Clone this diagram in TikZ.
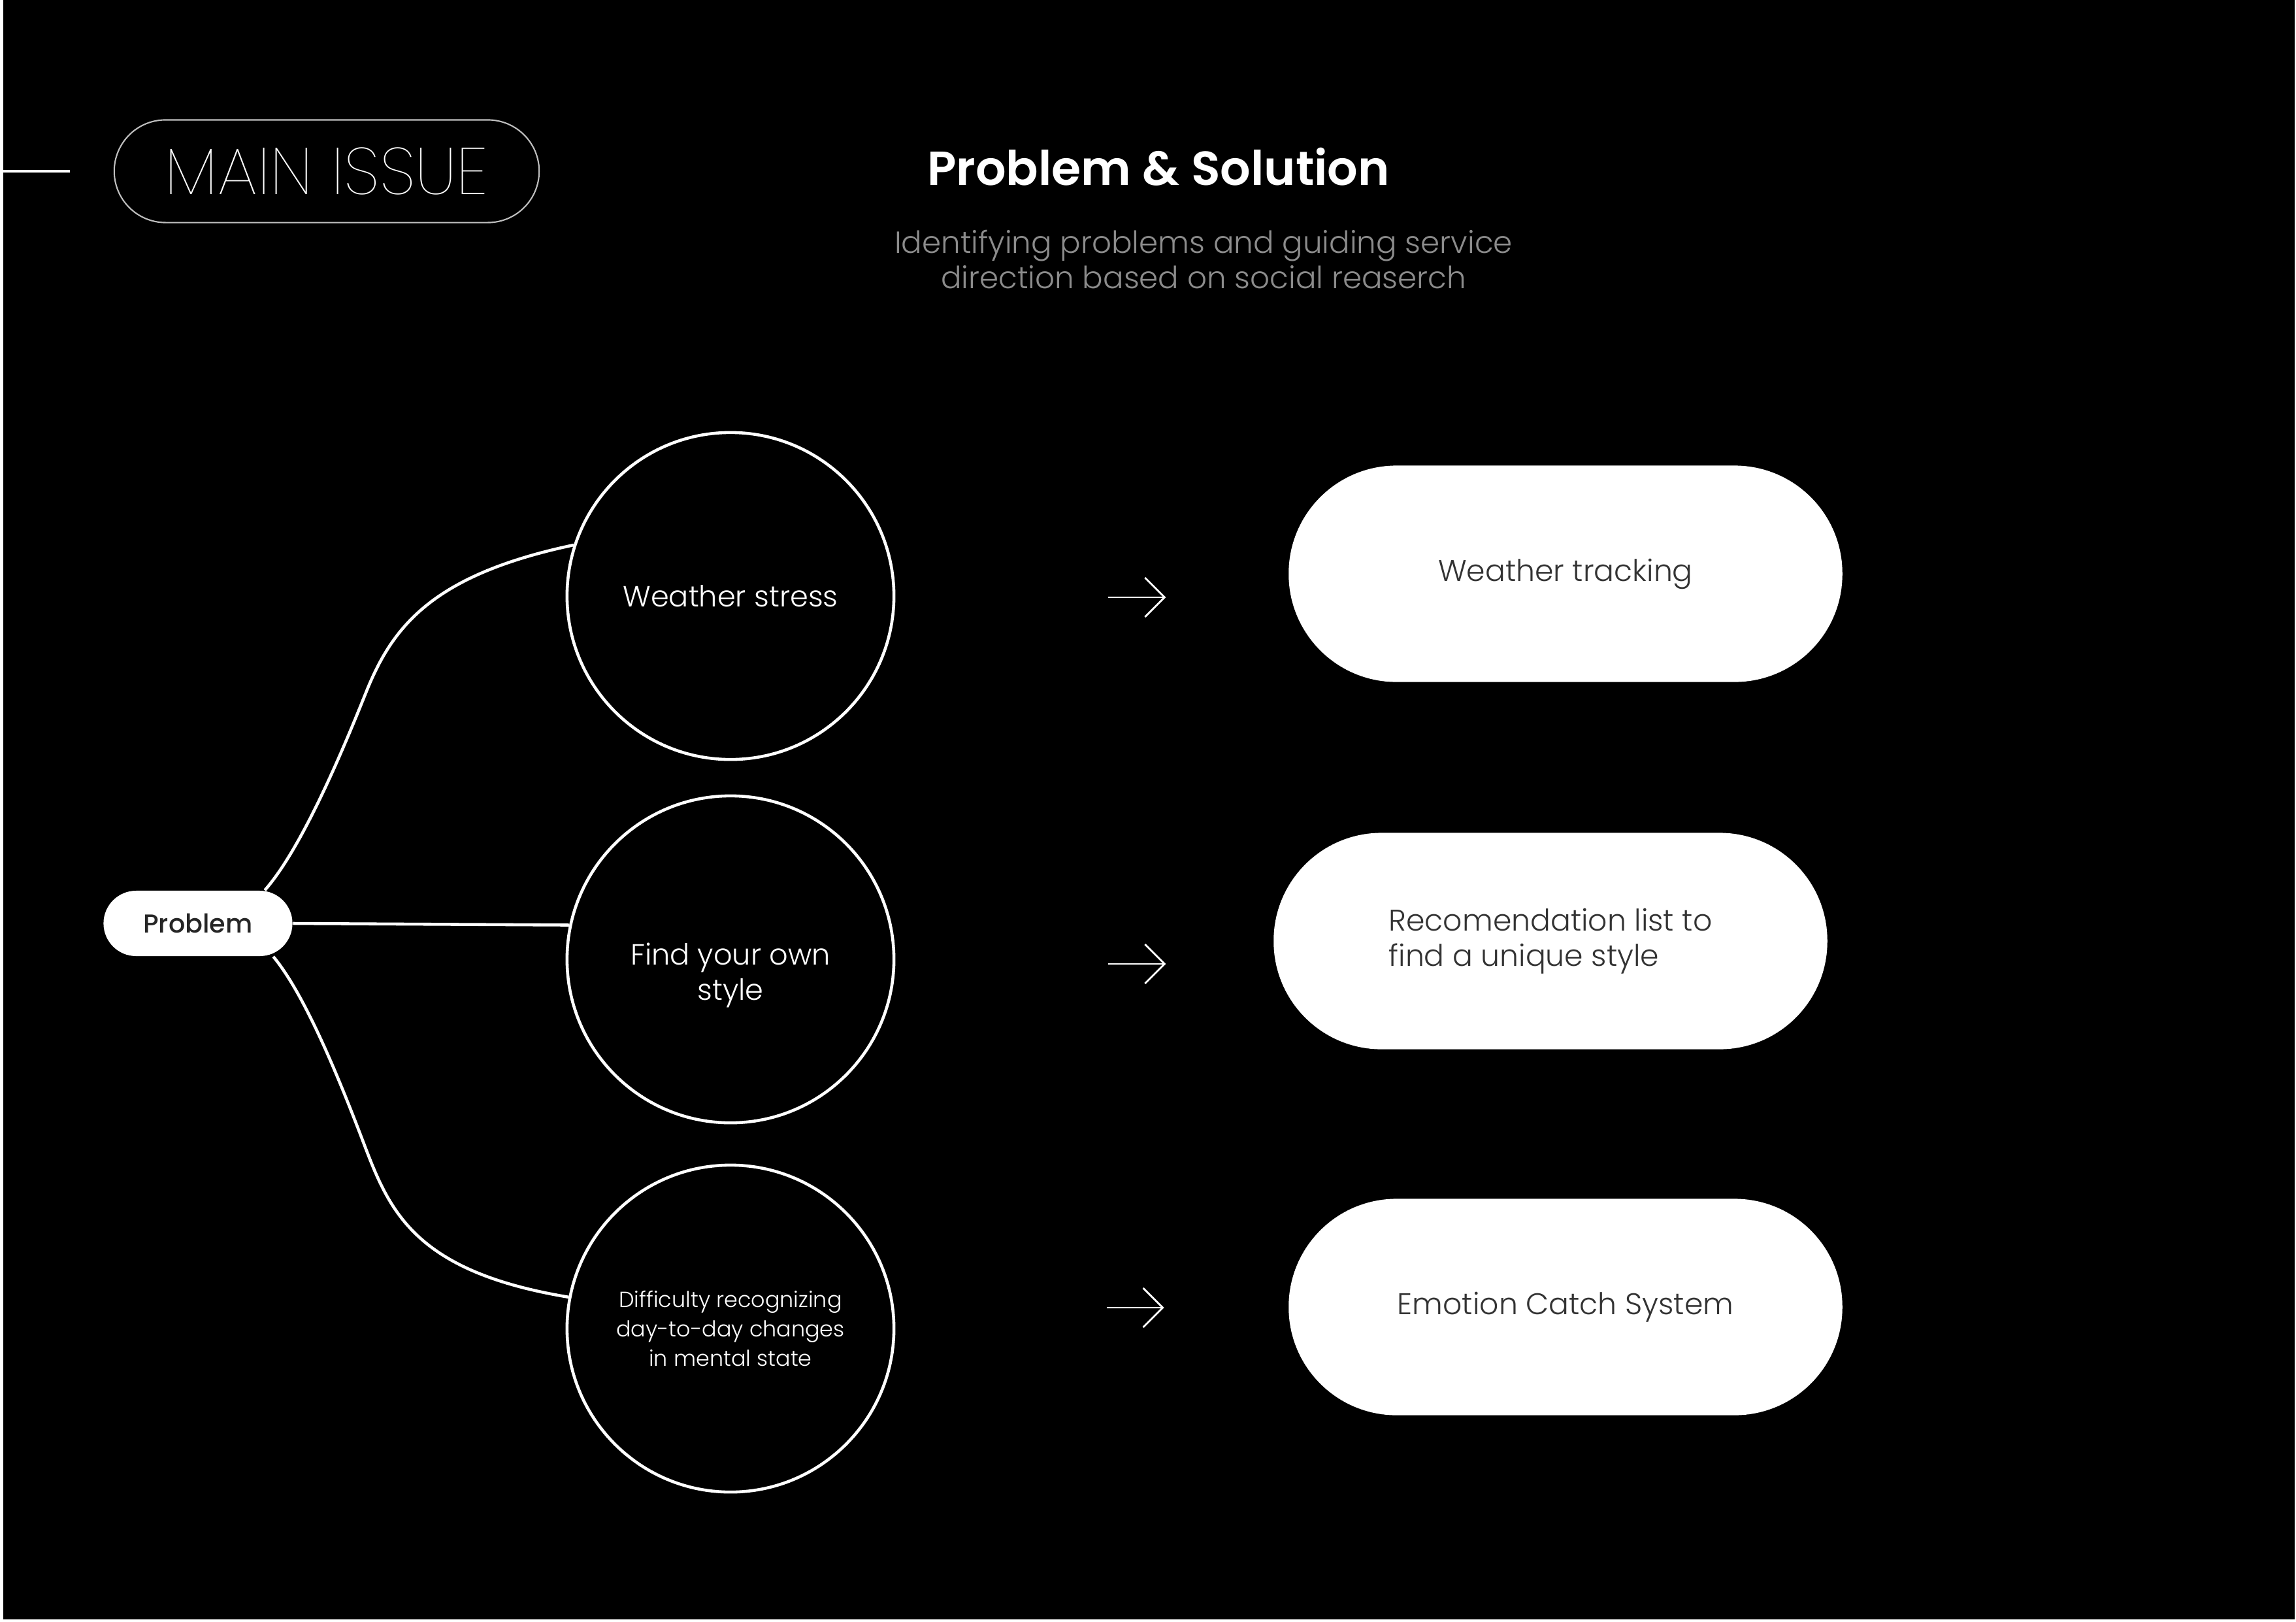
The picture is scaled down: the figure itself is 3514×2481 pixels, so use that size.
\documentclass[tikz,border=0pt]{standalone}
\usepackage{fontspec}
\setmainfont{Poppins}[UprightFont=* Light,BoldFont=* SemiBold]
\newfontfamily\thinfont{Poppins}[UprightFont=* Thin]
\newfontfamily\medfont{Poppins}[UprightFont=* Medium]
\usetikzlibrary{positioning}
\usetikzlibrary{arrows.meta}

\tikzset{
  issue/.style={circle,draw=white,line width=1.3pt,minimum size=5cm,text=white,align=center,font=\fontsize{12.7}{15.4}\selectfont},
  answer/.style={rectangle,rounded corners=16.5mm,fill=white,minimum width=8.47cm,minimum height=3.31cm,text=black!80,align=left,font=\fontsize{13}{15.4}\selectfont},
  link/.style={white,line width=1.3pt},
  hint/.style={white,line width=0.8pt,-{Straight Barb[length=3mm,width=6mm]}}
}

\begin{document}
\begin{tikzpicture}[x=0.01cm,y=-0.01cm]
\useasboundingbox (0,0) rectangle (3514,2481);
\fill[white] (0,0) rectangle (3514,2481);
\fill[black] (5,0) rectangle (3512,2478);

\node[draw=white!75!black,line width=0.6pt,rounded corners=7.85mm,minimum width=6.5cm,minimum height=1.57cm,text=white,font=\thinfont\fontsize{28.7}{32}\selectfont] (main) at (500,262) {MAIN ISSUE};
\coordinate (edge) at (0,262);
\draw[white,line width=1.2pt] (edge) -- ([xshift=-0.67cm]main.west);

\node[text=white,font=\bfseries\fontsize{20.8}{24}\selectfont] (title) at (1773,255) {Problem \& Solution};
\node[text=white!55!black,align=center,font=\fontsize{13.3}{15.4}\selectfont] (sub) at (1842,397) {Identifying problems and guiding service\\direction based on social reaserch};

\node[issue] (weather) at (1118,912) {Weather stress};
\node[issue,text height=39pt] (style) at (1118,1468) {Find your own\\style};
\node[issue,font=\fontsize{9.5}{12.8}\selectfont] (mental) at (1118,2033) {Difficulty recognizing\\day-to-day changes\\in mental state};

\node[fill=white,rounded corners=5mm,minimum width=2.89cm,minimum height=1cm,text=black!85,font=\medfont\fontsize{11.3}{13}\selectfont] (problem) at (303,1413) {Problem};

\draw[link] ([xshift=-0.43cm]problem.north east) .. controls (460,1300) and (520,1160) .. (560,1060)
  .. controls (600,960) and (660,880) .. (weather.162);
\draw[link] (problem.east) -- (style.168);
\draw[link] ([xshift=-0.3cm]problem.south east) .. controls (465,1520) and (515,1640) .. (555,1745)
  .. controls (595,1850) and (630,1945) .. (mental.169);

\node[answer] (track) at (2396,878) {Weather tracking};
\node[answer] (recom) at (2373,1440) {Recomendation list to\\find a unique style};
\node[answer] (emotion) at (2396,2000) {Emotion Catch System};

\draw[hint] (weather.east) ++(326,2) -- ++(88,0);
\draw[hint] (style.east) ++(326,7) -- ++(88,0);
\draw[hint] (emotion.west) ++(-278,1) -- ++(88,0);
\end{tikzpicture}
\end{document}
